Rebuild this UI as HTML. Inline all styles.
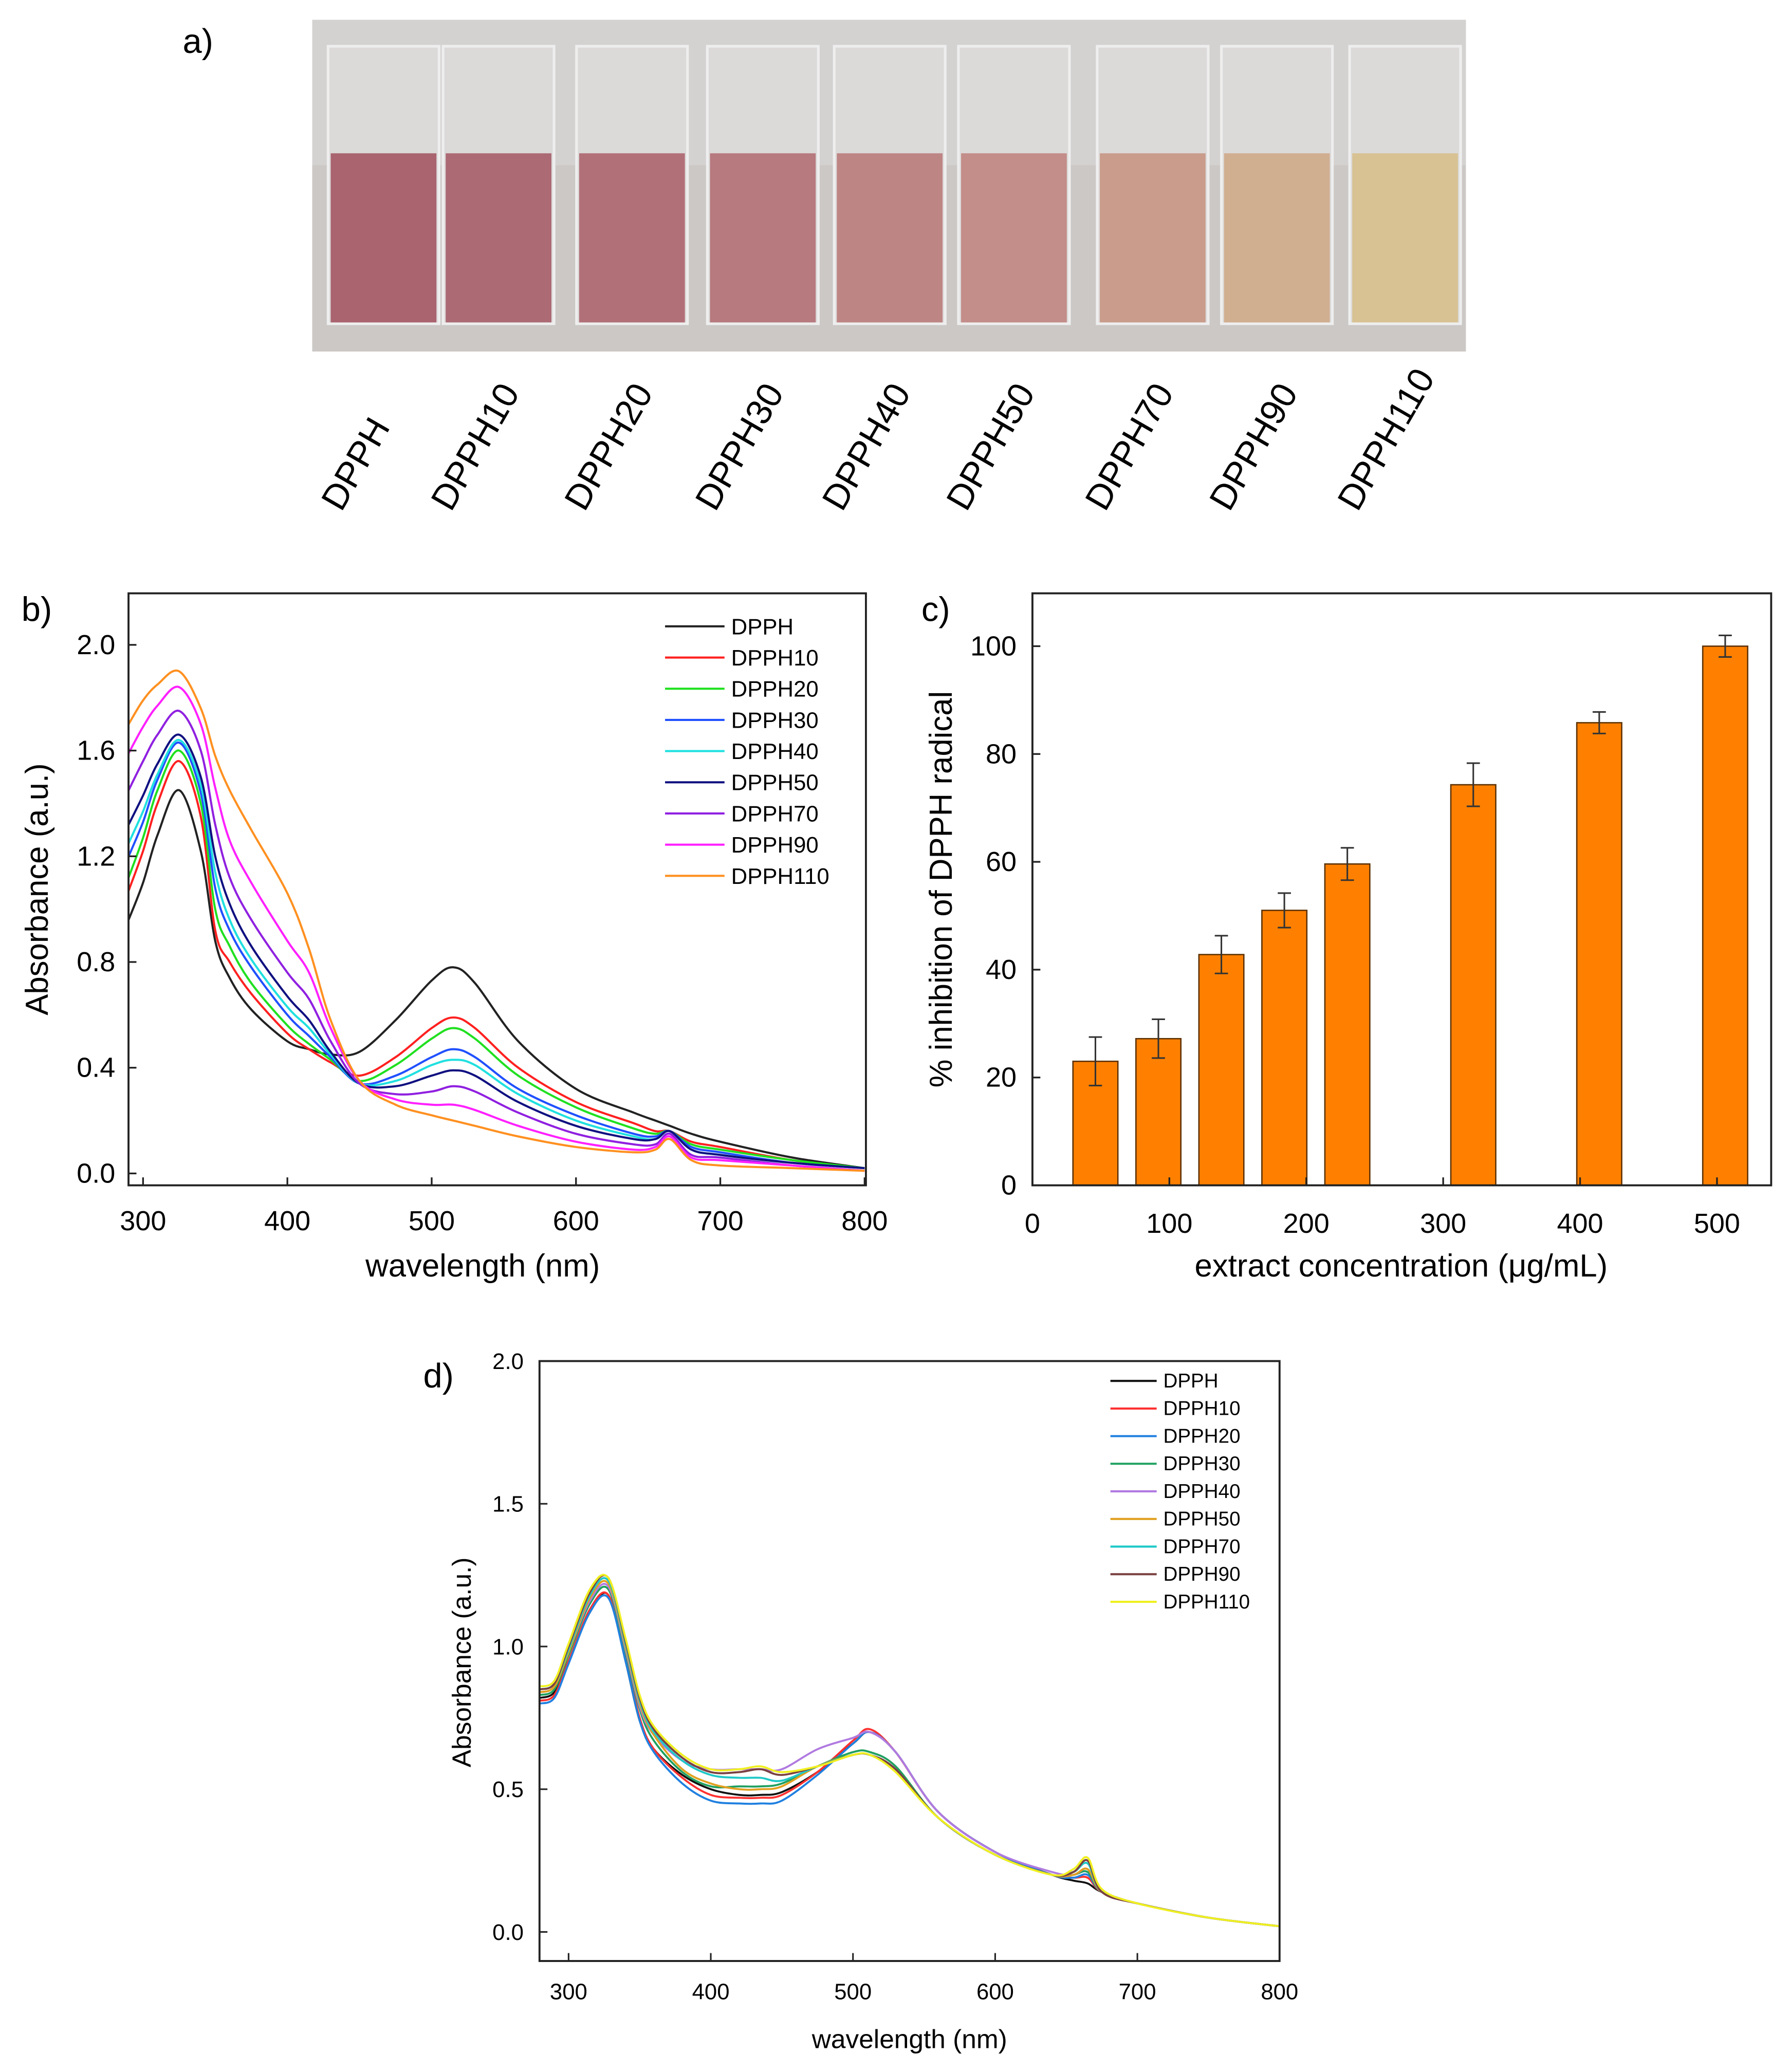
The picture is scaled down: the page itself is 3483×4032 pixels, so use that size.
<!DOCTYPE html>
<html><head><meta charset="utf-8">
<style>
html,body{margin:0;padding:0;background:#fff;}
svg{display:block;font-family:"Liberation Sans",sans-serif;}
</style></head>
<body>
<svg id="fig" width="3483" height="4032" viewBox="0 0 1354 1568" xmlns="http://www.w3.org/2000/svg">
<g id="panelA">
<text x="138" y="40" font-size="26">a)</text>
<rect x="236" y="15" width="873" height="251" fill="#cbc8c6"/>
<rect x="236" y="15" width="873" height="110" fill="#d4d2d1"/>
</g>
<g id="panelB"></g>
<g id="panelC"></g>
<g id="panelD"></g>
</svg>
<script>
const NS="http://www.w3.org/2000/svg";
function mk(parent,tag,attrs,text){const e=document.createElementNS(NS,tag);for(const k in attrs)e.setAttribute(k,attrs[k]);if(text!==undefined)e.textContent=text;parent.appendChild(e);return e;}

// ---------- Panel a data ----------
const cuvetteLabels=["DPPH","DPPH10","DPPH20","DPPH30","DPPH40","DPPH50","DPPH70","DPPH90","DPPH110"];
const cuvetteColors=["#a9646f","#ac6a74","#b17078","#b77a7f","#bd8584","#c38d89","#c99c8c","#d0ae90","#d8c293"];
const A=document.getElementById('panelA');
const cx=[290,377,478,577,673,767,872,966,1063];
for(let i=0;i<9;i++){
  const g=mk(A,'g',{});
  
  
  const glass=mk(g,'rect',{x:cx[i]-42,y:35,width:84,height:210,fill:'#dcdad9',stroke:'#eeeeee','stroke-width':2});
  
  
  const liq=mk(g,'rect',{x:cx[i]-40,y:116,width:80,height:128,fill:cuvetteColors[i]});
  
  
  const t=mk(A,'text',{x:0,y:0,'font-size':27,transform:`translate(${cx[i]-32+(i>0?-4:0)},388) rotate(-60)`},cuvetteLabels[i]);
  
  
}

// ---------- Panel b data ----------
const bWave=[290,300,310,325,340,350,360,375,400,415,430,450,475,500,515,530,560,600,640,655,665,680,700,750,800];
const bNames=["DPPH","DPPH10","DPPH20","DPPH30","DPPH40","DPPH50","DPPH70","DPPH90","DPPH110"];
const bColors=["#222222","#ff2020","#20e020","#2050ff","#20e0e0","#101080","#9020e0","#ff20ff","#ff9020"];
const bDPPH   =[0.96,1.10,1.28,1.45,1.22,0.88,0.74,0.62,0.50,0.47,0.45,0.46,0.58,0.73,0.78,0.72,0.50,0.32,0.23,0.20,0.18,0.15,0.12,0.06,0.02];
const bDPPH10 =[1.07,1.22,1.40,1.56,1.35,0.92,0.80,0.68,0.53,0.47,0.42,0.37,0.44,0.55,0.59,0.55,0.40,0.27,0.19,0.16,0.16,0.12,0.10,0.05,0.02];
const bDPPH20 =[1.12,1.27,1.45,1.60,1.40,1.00,0.86,0.72,0.56,0.49,0.43,0.35,0.41,0.51,0.55,0.51,0.37,0.25,0.17,0.15,0.16,0.11,0.09,0.05,0.02];
const bDPPH30 =[1.20,1.33,1.49,1.63,1.44,1.08,0.92,0.78,0.60,0.52,0.44,0.34,0.37,0.44,0.47,0.44,0.32,0.22,0.15,0.14,0.16,0.10,0.08,0.04,0.02];
const bDPPH40 =[1.25,1.37,1.51,1.64,1.47,1.14,0.96,0.81,0.63,0.55,0.45,0.34,0.35,0.41,0.43,0.41,0.30,0.20,0.14,0.13,0.16,0.09,0.07,0.04,0.02];
const bDPPH50 =[1.32,1.43,1.55,1.66,1.50,1.20,1.02,0.86,0.67,0.58,0.46,0.34,0.33,0.37,0.39,0.37,0.27,0.18,0.13,0.13,0.16,0.09,0.07,0.04,0.02];
const bDPPH70 =[1.45,1.56,1.66,1.75,1.60,1.32,1.12,0.96,0.76,0.66,0.50,0.34,0.30,0.31,0.33,0.31,0.23,0.15,0.11,0.11,0.15,0.07,0.06,0.03,0.01];
const bDPPH90 =[1.59,1.69,1.77,1.84,1.70,1.46,1.26,1.10,0.88,0.76,0.55,0.35,0.28,0.26,0.26,0.24,0.18,0.12,0.09,0.10,0.14,0.06,0.05,0.03,0.01];
const bDPPH110=[1.70,1.79,1.85,1.90,1.76,1.58,1.45,1.30,1.06,0.85,0.58,0.35,0.26,0.22,0.20,0.18,0.14,0.10,0.08,0.09,0.13,0.05,0.03,0.02,0.01];
const bSeries=[bDPPH,bDPPH10,bDPPH20,bDPPH30,bDPPH40,bDPPH50,bDPPH70,bDPPH90,bDPPH110];
const bXTicks=[300,400,500,600,700,800];
const bYTicks=[0.0,0.4,0.8,1.2,1.6,2.0];

// ---------- Panel c data ----------
const cConc=[46,92,138,184,230,322,414,506];
const cValues=[23,27.2,42.8,51,59.6,74.3,85.8,100];
const cErrors=[4.5,3.6,3.5,3.2,3.0,4.0,2.0,2.0];
const cXTicks=[0,100,200,300,400,500];
const cYTicks=[0,20,40,60,80,100];

// ---------- Panel d data ----------
const dWave=[280,290,300,315,328,340,350,360,380,400,420,435,450,475,500,512,530,560,600,640,655,665,675,700,750,800];
const dNames=["DPPH","DPPH10","DPPH20","DPPH30","DPPH40","DPPH50","DPPH70","DPPH90","DPPH110"];
const dColors=["#111111","#ff3030","#2080e0","#20a060","#b07ae0","#e0a020","#20c8c8","#7a4040","#f0f020"];
const dDPPH   =[0.82,0.84,0.95,1.12,1.18,0.95,0.74,0.64,0.55,0.50,0.48,0.48,0.49,0.56,0.66,0.70,0.63,0.42,0.28,0.20,0.18,0.17,0.14,0.10,0.05,0.02];
const dDPPH10 =[0.81,0.83,0.95,1.13,1.18,0.96,0.75,0.64,0.54,0.48,0.47,0.47,0.48,0.56,0.67,0.71,0.63,0.42,0.28,0.20,0.19,0.19,0.14,0.10,0.05,0.02];
const dDPPH20 =[0.80,0.82,0.94,1.12,1.17,0.95,0.74,0.63,0.52,0.46,0.45,0.45,0.46,0.55,0.66,0.70,0.63,0.42,0.28,0.20,0.19,0.20,0.14,0.10,0.05,0.02];
const dDPPH30 =[0.83,0.85,0.97,1.15,1.20,0.98,0.78,0.67,0.56,0.51,0.51,0.51,0.52,0.58,0.63,0.63,0.58,0.40,0.27,0.20,0.20,0.21,0.14,0.10,0.05,0.02];
const dDPPH40 =[0.84,0.86,0.98,1.16,1.21,0.99,0.79,0.69,0.60,0.57,0.57,0.57,0.57,0.64,0.68,0.70,0.63,0.42,0.28,0.21,0.20,0.22,0.14,0.10,0.05,0.02];
const dDPPH50 =[0.84,0.86,0.98,1.17,1.22,1.00,0.80,0.69,0.57,0.52,0.50,0.50,0.51,0.58,0.62,0.62,0.57,0.40,0.27,0.20,0.20,0.22,0.14,0.10,0.05,0.02];
const dDPPH70 =[0.85,0.87,0.99,1.18,1.23,1.01,0.81,0.70,0.60,0.55,0.54,0.54,0.53,0.58,0.62,0.62,0.57,0.40,0.27,0.20,0.21,0.24,0.14,0.10,0.05,0.02];
const dDPPH90 =[0.85,0.87,1.00,1.19,1.24,1.02,0.82,0.71,0.61,0.56,0.56,0.57,0.55,0.58,0.62,0.62,0.57,0.40,0.27,0.20,0.21,0.25,0.14,0.10,0.05,0.02];
const dDPPH110=[0.86,0.88,1.01,1.20,1.24,1.03,0.83,0.72,0.62,0.57,0.57,0.58,0.56,0.58,0.62,0.62,0.56,0.40,0.27,0.20,0.22,0.26,0.15,0.10,0.05,0.02];
const dSeries=[dDPPH,dDPPH10,dDPPH20,dDPPH30,dDPPH40,dDPPH50,dDPPH70,dDPPH90,dDPPH110];
const dXTicks=[300,400,500,600,700,800];
const dYTicks=[0.0,0.5,1.0,1.5,2.0];

function smoothPath(pts){
  let d=`M${pts[0][0]},${pts[0][1]}`;
  for(let i=0;i<pts.length-1;i++){
    const p0=pts[Math.max(0,i-1)],p1=pts[i],p2=pts[i+1],p3=pts[Math.min(pts.length-1,i+2)];
    const c1x=p1[0]+(p2[0]-p0[0])/6,c1y=p1[1]+(p2[1]-p0[1])/6;
    const c2x=p2[0]-(p3[0]-p1[0])/6,c2y=p2[1]-(p3[1]-p1[1])/6;
    d+=` C${c1x.toFixed(2)},${c1y.toFixed(2)} ${c2x.toFixed(2)},${c2y.toFixed(2)} ${p2[0].toFixed(2)},${p2[1].toFixed(2)}`;
  }
  return d;
}

// ---------- Panel b draw ----------
(function(){
  const G=document.getElementById('panelB');
  const x0=97,x1=655,y0=449,y1=897;
  const xs=v=>108+(v-300)*1.092;
  const ys=v=>888-v*200;
  const lbl=mk(G,'text',{x:16,y:470,'font-size':26},'b)');
  
  
  const clip=mk(G,'clipPath',{id:'clipB'});mk(clip,'rect',{x:x0,y:y0,width:x1-x0,height:y1-y0});
  bSeries.forEach((s,i)=>{
    const p=mk(G,'path',{d:smoothPath(bWave.map((w,j)=>[xs(w),ys(s[j])])),fill:'none',stroke:bColors[i],'stroke-width':1.6,'clip-path':'url(#clipB)'});
    
    
  });
  const box=mk(G,'rect',{x:x0,y:y0,width:x1-x0,height:y1-y0,fill:'none',stroke:'#222','stroke-width':1.5});
  
  
  bXTicks.forEach(t=>{
    mk(G,'line',{x1:xs(t),x2:xs(t),y1:y1,y2:y1-6,stroke:'#222','stroke-width':1.3});
    const tx=mk(G,'text',{x:xs(t),y:y1+34,'font-size':21,'text-anchor':'middle'},t);
    
    
  });
  bYTicks.forEach(t=>{
    mk(G,'line',{x1:x0,x2:x0+6,y1:ys(t),y2:ys(t),stroke:'#222','stroke-width':1.3});
    const tx=mk(G,'text',{x:x0-10,y:ys(t)+7,'font-size':21,'text-anchor':'end'},t.toFixed(1));
    
    
  });
  const xt=mk(G,'text',{x:365,y:966,'font-size':24,'text-anchor':'middle'},'wavelength (nm)');
  
  
  const yt=mk(G,'text',{x:0,y:0,'font-size':24,'text-anchor':'middle',transform:'translate(36,673) rotate(-90)'},'Absorbance (a.u.)');
  
  
  bNames.forEach((n,i)=>{
    const y=474+i*23.6;
    const l=mk(G,'line',{x1:503,x2:548,y1:y,y2:y,stroke:bColors[i],'stroke-width':1.6});
    
    
    const t=mk(G,'text',{x:553,y:y+6,'font-size':17},n);
    
    
  });
})();

// ---------- Panel c draw ----------
(function(){
  const G=document.getElementById('panelC');
  const x0=781,x1=1340,y0=449,y1=897;
  const xs=v=>781+v*1.036;
  const ys=v=>897-v*4.08;
  const lbl=mk(G,'text',{x:697,y:470,'font-size':26},'c)');
  
  
  cConc.forEach((c,i)=>{
    const b=mk(G,'rect',{x:xs(c)-17,y:ys(cValues[i]),width:34,height:ys(0)-ys(cValues[i]),fill:'#ff8000',stroke:'#5a3000','stroke-width':1});
    
    
    const eh=ys(cValues[i]+cErrors[i]),el=ys(cValues[i]-cErrors[i]);
    const e=mk(G,'path',{d:`M${xs(c)},${eh}V${el}M${xs(c)-5},${eh}H${xs(c)+5}M${xs(c)-5},${el}H${xs(c)+5}`,stroke:'#333',fill:'none','stroke-width':1.2});
    
    
  });
  const box=mk(G,'rect',{x:x0,y:y0,width:x1-x0,height:y1-y0,fill:'none',stroke:'#222','stroke-width':1.5});
  
  
  cXTicks.forEach(t=>{
    mk(G,'line',{x1:xs(t),x2:xs(t),y1:y1,y2:y1-6,stroke:'#222','stroke-width':1.3});
    const tx=mk(G,'text',{x:xs(t),y:y1+36,'font-size':21,'text-anchor':'middle'},t);
    
    
  });
  cYTicks.forEach(t=>{
    mk(G,'line',{x1:x0,x2:x0+6,y1:ys(t),y2:ys(t),stroke:'#222','stroke-width':1.3});
    const tx=mk(G,'text',{x:x0-12,y:ys(t)+7,'font-size':21,'text-anchor':'end'},t);
    
    
  });
  const xt=mk(G,'text',{x:1060,y:966,'font-size':24,'text-anchor':'middle'},'extract concentration (μg/mL)');
  
  
  const yt=mk(G,'text',{x:0,y:0,'font-size':24,'text-anchor':'middle',transform:'translate(720,673) rotate(-90)'},'% inhibition of DPPH radical');
  
  
})();

// ---------- Panel d draw ----------
(function(){
  const G=document.getElementById('panelD');
  const x0=408,x1=968,y0=1030,y1=1484;
  const xs=v=>430+(v-300)*1.076;
  const ys=v=>1462-v*216;
  const lbl=mk(G,'text',{x:320,y:1050,'font-size':26},'d)');
  
  
  const clip=mk(G,'clipPath',{id:'clipD'});mk(clip,'rect',{x:x0,y:y0,width:x1-x0,height:y1-y0});
  dSeries.forEach((s,i)=>{
    const p=mk(G,'path',{d:smoothPath(dWave.map((w,j)=>[xs(w),ys(s[j])])),fill:'none',stroke:dColors[i],'stroke-width':1.5,'clip-path':'url(#clipD)'});
    
    
  });
  const box=mk(G,'rect',{x:x0,y:y0,width:x1-x0,height:y1-y0,fill:'none',stroke:'#222','stroke-width':1.5});
  
  
  dXTicks.forEach(t=>{
    mk(G,'line',{x1:xs(t),x2:xs(t),y1:y1,y2:y1-6,stroke:'#222','stroke-width':1.2});
    const tx=mk(G,'text',{x:xs(t),y:y1+29,'font-size':17,'text-anchor':'middle'},t);
    
    
  });
  dYTicks.forEach(t=>{
    mk(G,'line',{x1:x0,x2:x0+6,y1:ys(t),y2:ys(t),stroke:'#222','stroke-width':1.2});
    const tx=mk(G,'text',{x:x0-12,y:ys(t)+6,'font-size':17,'text-anchor':'end'},t.toFixed(1));
    
    
  });
  const xt=mk(G,'text',{x:688,y:1550,'font-size':20,'text-anchor':'middle'},'wavelength (nm)');
  
  
  const yt=mk(G,'text',{x:0,y:0,'font-size':20,'text-anchor':'middle',transform:'translate(356,1258) rotate(-90)'},'Absorbance (a.u.)');
  
  
  dNames.forEach((n,i)=>{
    const y=1045+i*20.9;
    const l=mk(G,'line',{x1:840,x2:875,y1:y,y2:y,stroke:dColors[i],'stroke-width':1.6});
    
    
    const t=mk(G,'text',{x:880,y:y+5,'font-size':15},n);
    
    
  });
})();
</script>
</body></html>
